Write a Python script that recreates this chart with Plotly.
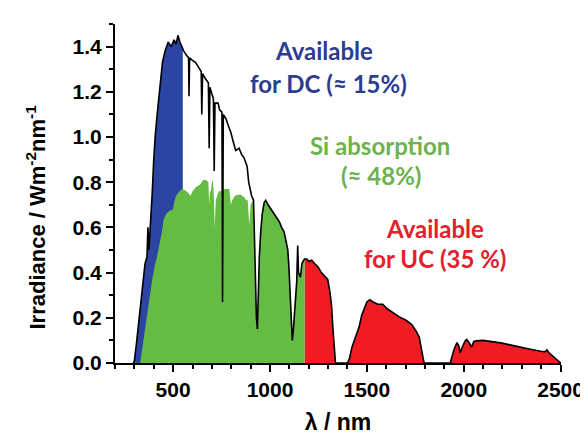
import numpy as np
import plotly.graph_objects as go

# ---- Data ----
# AM1.5 solar spectrum (black line)
wavelength_nm = [
    295, 300, 310, 325, 340, 355, 365, 370, 375, 385, 392, 400, 408, 420, 433, 445, 458, 475,
    490, 505, 515, 525, 535, 545, 555, 570, 580, 582, 585, 598, 615, 630, 645, 648, 652, 665,
    682, 686, 690, 700, 708, 712, 716, 732, 740, 752, 755, 759, 773, 785, 798, 810, 823, 840,
    855, 865, 882, 890, 898, 905, 915, 922, 930, 935, 940, 945, 952, 960, 970, 978, 990, 1005,
    1015, 1030, 1048, 1060, 1073, 1085, 1092, 1098, 1103, 1108, 1115, 1120, 1125, 1132, 1138,
    1143, 1147, 1157, 1165, 1178, 1190, 1200, 1215, 1230, 1248, 1265, 1280, 1298, 1310, 1318,
    1325, 1332, 1338, 1400, 1410, 1423, 1435, 1448, 1460, 1473, 1490, 1500, 1515, 1532, 1557,
    1582, 1605, 1632, 1665, 1700, 1732, 1755, 1770, 1782, 1795, 1930, 1940, 1950, 1965, 1975,
    1982, 1992, 2007, 2015, 2028, 2040, 2052, 2065, 2100, 2150, 2198, 2250, 2298, 2350, 2398,
    2420, 2430, 2440, 2465, 2490, 2500,
]
irradiance = [
    0.0, 0.01, 0.08, 0.20, 0.33, 0.44, 0.47, 0.60, 0.50, 0.62, 0.75, 0.90, 1.01, 1.12, 1.24,
    1.33, 1.38, 1.42, 1.40, 1.43, 1.41, 1.45, 1.42, 1.40, 1.38, 1.36, 1.35, 1.18, 1.35, 1.34,
    1.33, 1.31, 1.29, 1.10, 1.28, 1.26, 1.24, 0.95, 1.22, 1.19, 1.17, 0.85, 1.15, 1.15, 1.12,
    1.11, 0.27, 1.10, 1.08, 1.05, 1.02, 0.98, 0.94, 0.95, 0.92, 0.91, 0.87, 0.80, 0.76, 0.74,
    0.72, 0.45, 0.20, 0.15, 0.35, 0.47, 0.58, 0.66, 0.71, 0.72, 0.70, 0.68, 0.67, 0.645, 0.625,
    0.60, 0.58, 0.53, 0.50, 0.42, 0.30, 0.20, 0.10, 0.14, 0.20, 0.30, 0.36, 0.52, 0.40, 0.38,
    0.44, 0.46, 0.46, 0.45, 0.455, 0.44, 0.425, 0.40, 0.385, 0.37, 0.31, 0.25, 0.15, 0.04, 0.0,
    0.0, 0.02, 0.07, 0.10, 0.135, 0.16, 0.21, 0.25, 0.27, 0.28, 0.27, 0.26, 0.26, 0.24, 0.225,
    0.205, 0.19, 0.17, 0.14, 0.115, 0.06, 0.0, 0.0, 0.03, 0.06, 0.09, 0.075, 0.045, 0.07,
    0.097, 0.104, 0.09, 0.07, 0.095, 0.098, 0.10, 0.095, 0.088, 0.078, 0.068, 0.06, 0.052,
    0.05, 0.058, 0.045, 0.026, 0.01, 0.0,
]

# Si absorption (green area)
si_wavelength_nm = [
    330, 335, 350, 367, 380, 392, 405, 417, 430, 442, 450, 458, 475, 500, 505, 515, 533, 548,
    560, 575, 590, 600, 620, 640, 655, 670, 682, 686, 690, 695, 700, 705, 710, 715, 720, 735,
    750, 753, 757, 765, 790, 798, 805, 820, 832, 850, 865, 878, 885, 893, 900, 912, 918, 925,
    932, 940, 945, 952, 960, 970, 978, 990, 1005, 1015, 1030, 1048, 1060, 1073, 1085, 1092,
    1098, 1103, 1108, 1115, 1120, 1125, 1132, 1138, 1143, 1147, 1157, 1165, 1178,
]
si_absorption = [
    0.0, 0.03, 0.14, 0.225, 0.30, 0.37, 0.43, 0.47, 0.53, 0.58, 0.63, 0.65, 0.67, 0.68, 0.71,
    0.74, 0.76, 0.77, 0.765, 0.755, 0.74, 0.76, 0.78, 0.79, 0.81, 0.81, 0.80, 0.70, 0.76, 0.76,
    0.80, 0.81, 0.74, 0.60, 0.72, 0.76, 0.76, 0.28, 0.76, 0.77, 0.77, 0.70, 0.72, 0.74, 0.745,
    0.745, 0.735, 0.72, 0.72, 0.61, 0.70, 0.72, 0.50, 0.30, 0.16, 0.35, 0.47, 0.58, 0.66, 0.71,
    0.72, 0.70, 0.68, 0.67, 0.645, 0.625, 0.60, 0.58, 0.53, 0.50, 0.42, 0.30, 0.20, 0.10,
    0.14, 0.20, 0.30, 0.36, 0.45, 0.40, 0.38, 0.44, 0.46,
]

DC_END_NM = 550      # upper edge of the "available for DC" region
UC_START_NM = 1178   # lower edge of the "available for UC" region

x_ticks = [500, 1000, 1500, 2000, 2500]
y_ticks = [0.0, 0.2, 0.4, 0.6, 0.8, 1.0, 1.2, 1.4]

labels = [
    ("Available", 1280, 1.383, "#2B3C92"),
    ("for DC (≈ 15%)", 1300, 1.237, "#2B3C92"),
    ("Si absorption", 1570, 0.963, "#6DB24E"),
    ("(≈ 48%)", 1575, 0.83, "#6DB24E"),
    ("Available", 1850, 0.595, "#E3202B"),
    ("for UC (35 %)", 1850, 0.462, "#E3202B"),
]

# ---- Build figure ----
wl = np.array(wavelength_nm, dtype=float)
irr = np.array(irradiance, dtype=float)


def segment(x, y, lo, hi):
    m = (x > lo) & (x < hi)
    xs = np.concatenate([[lo], x[m], [hi]])
    ys = np.concatenate([[np.interp(lo, x, y)], y[m], [np.interp(hi, x, y)]])
    return xs, ys


bx, by = segment(wl, irr, wl[0], DC_END_NM)
rx, ry = segment(wl, irr, UC_START_NM, wl[-1])

fig = go.Figure()
fig.add_trace(go.Scatter(x=bx, y=by, mode="lines", fill="tozeroy",
                         fillcolor="#2C44A2", line=dict(width=0), hoverinfo="skip",
                         name="Available for DC"))
fig.add_trace(go.Scatter(x=rx, y=ry, mode="lines", fill="tozeroy",
                         fillcolor="#F01C24", line=dict(width=0), hoverinfo="skip",
                         name="Available for UC"))
fig.add_trace(go.Scatter(x=si_wavelength_nm, y=si_absorption, mode="lines", fill="tozeroy",
                         fillcolor="#64BC45", line=dict(width=0), hoverinfo="skip",
                         name="Si absorption"))
fig.add_trace(go.Scatter(x=wl, y=irr, mode="lines", line=dict(color="black", width=1.6),
                         name="AM1.5"))

tickfont = dict(family="Liberation Sans, Arial", size=21, color="black", weight="bold")

fig.update_layout(
    width=588, height=435,
    margin=dict(l=107, r=23, t=16, b=69),
    paper_bgcolor="white", plot_bgcolor="white",
    showlegend=False,
    xaxis=dict(
        range=[200, 2502], tickvals=x_ticks, ticktext=[str(v) for v in x_ticks],
        showline=True, linecolor="black", linewidth=2, mirror=False,
        ticks="outside", ticklen=7, tickwidth=2, tickcolor="black",
        ticklabeloverflow="allow",
        minor=dict(dtick=100, tick0=0, ticks="outside", ticklen=4, tickwidth=1.5, tickcolor="black"),
        showgrid=False, zeroline=False, tickfont=tickfont,
        title=dict(text="λ / nm", standoff=14,
                   font=dict(family="Liberation Sans, Arial", size=23, color="black", weight="bold")),
    ),
    yaxis=dict(
        range=[0, 1.5], tickvals=y_ticks, ticktext=[f"{v:.1f}" for v in y_ticks],
        showline=True, linecolor="black", linewidth=2,
        ticks="outside", ticklen=7, tickwidth=2, tickcolor="black",
        ticklabeloverflow="allow",
        minor=dict(dtick=0.1, tick0=0, ticks="outside", ticklen=4, tickwidth=1.5, tickcolor="black"),
        showgrid=False, zeroline=False, tickfont=tickfont,
    ),
)

fig.add_annotation(
    text="Irradiance / Wm<sup>-2</sup>nm<sup>-1</sup>", xref="paper", yref="paper",
    x=-0.178, y=0.431, textangle=-90, showarrow=False, xanchor="center", yanchor="middle",
    font=dict(family="Liberation Sans, Arial", size=22, color="black", weight="bold"),
)

for text, x, y, color in labels:
    fig.add_annotation(text=text, x=x, y=y, xref="x", yref="y", showarrow=False,
                       xanchor="center", yanchor="middle",
                       font=dict(family="Lato", size=24, color=color, weight="bold"))

fig.write_html("out.html")
